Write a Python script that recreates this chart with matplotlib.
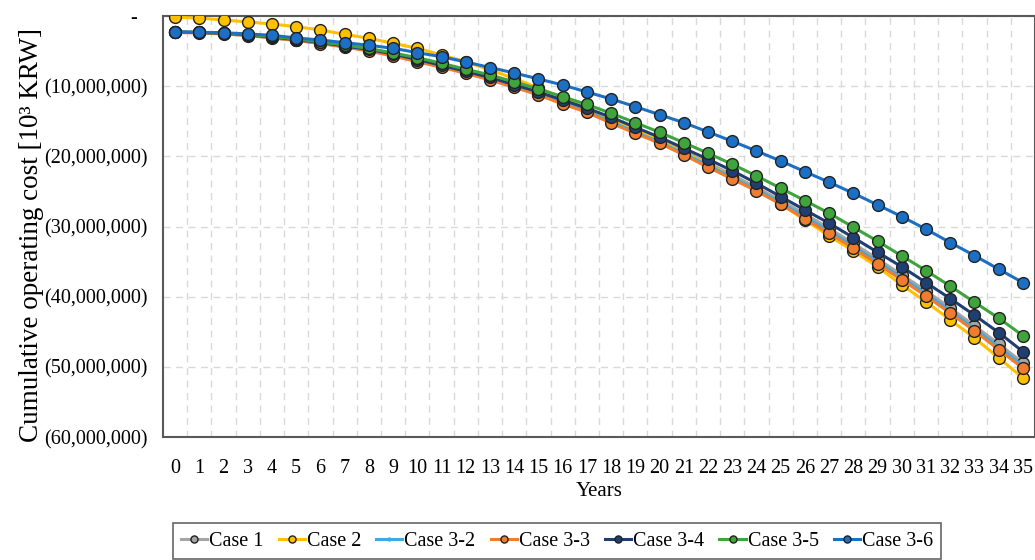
import numpy as np
import matplotlib
matplotlib.use("Agg")
import matplotlib.pyplot as plt
from matplotlib.ticker import FuncFormatter, FixedLocator

plt.rcParams['font.family'] = ['Liberation Serif', 'DejaVu Serif']

# Años y costos acumulados (millones de 10^3 KRW, negativos)
years = list(range(36))

case1 = [-2.28, -2.35, -2.49, -2.71, -3.06, -3.42, -3.85, -4.34, -4.84, -5.56,
         -6.34, -7.12, -7.98, -8.90, -9.97, -11.04, -12.25, -13.46, -14.81, -16.24,
         -17.73, -19.30, -20.94, -22.65, -24.43, -26.28, -28.21, -30.27, -32.41, -34.62,
         -36.89, -39.17, -41.60, -44.16, -46.72, -49.43]
case2 = [-0.19, -0.28, -0.57, -0.85, -1.14, -1.52, -1.99, -2.61, -3.18, -3.89,
         -4.60, -5.56, -6.51, -7.69, -8.90, -10.26, -11.68, -13.11, -14.60, -16.17,
         -17.81, -19.44, -21.15, -22.93, -24.79, -26.78, -29.06, -31.34, -33.48, -35.75,
         -38.32, -40.74, -43.30, -45.87, -48.72, -51.57]
case3_2 = [-2.30, -2.38, -2.52, -2.74, -3.10, -3.46, -3.89, -4.38, -4.92, -5.64,
           -6.44, -7.22, -8.08, -9.02, -10.08, -11.16, -12.42, -13.62, -15.08, -16.52,
           -17.98, -19.60, -21.30, -22.98, -24.75, -26.60, -28.62, -30.66, -32.80, -35.02,
           -37.30, -39.58, -42.02, -44.56, -47.16, -49.85]
case3_3 = [-2.35, -2.42, -2.56, -2.78, -3.13, -3.49, -3.92, -4.42, -4.99, -5.70,
           -6.51, -7.31, -8.17, -9.12, -10.16, -11.25, -12.54, -13.72, -15.28, -16.71,
           -18.13, -19.80, -21.55, -23.22, -24.93, -26.82, -28.92, -30.95, -33.09, -35.33,
           -37.61, -39.89, -42.35, -44.87, -47.54, -50.19]
case3_4 = [-2.28, -2.35, -2.45, -2.71, -2.99, -3.38, -3.77, -4.27, -4.77, -5.41,
           -6.20, -7.02, -7.88, -8.76, -9.78, -10.83, -11.97, -13.15, -14.43, -15.86,
           -17.28, -18.85, -20.41, -22.04, -23.83, -25.74, -27.64, -29.53, -31.58, -33.66,
           -35.75, -37.99, -40.27, -42.64, -45.11, -47.82]
case3_5 = [-2.28, -2.35, -2.42, -2.64, -2.92, -3.28, -3.70, -4.13, -4.63, -5.27,
           -5.94, -6.74, -7.59, -8.40, -9.40, -10.40, -11.50, -12.61, -13.86, -15.20,
           -16.57, -18.05, -19.56, -21.13, -22.79, -24.54, -26.31, -28.10, -30.10, -32.09,
           -34.19, -36.28, -38.50, -40.78, -43.06, -45.54]
case3_6 = [-2.28, -2.32, -2.38, -2.56, -2.75, -3.13, -3.42, -3.80, -4.17, -4.60,
           -5.23, -5.80, -6.55, -7.34, -8.12, -8.97, -9.83, -10.83, -11.82, -12.92,
           -14.06, -15.20, -16.52, -17.85, -19.23, -20.66, -22.18, -23.69, -25.26, -26.92,
           -28.59, -30.38, -32.29, -34.14, -36.08, -37.99]

labels = ["Case 1", "Case 2", "Case 3-2", "Case 3-3", "Case 3-4", "Case 3-5", "Case 3-6"]
series = [case1, case2, case3_2, case3_3, case3_4, case3_5, case3_6]
colors = ["#A5A5A5", "#FFC000", "#3FA9E6", "#F07D2E", "#1F3F73", "#3EA43B", "#1B70C6"]
y_ticks = [0, -10, -20, -30, -40, -50, -60]

fig = plt.figure(figsize=(10.35, 5.6), dpi=100)
ax = fig.add_axes([163 / 1035, 1 - 437 / 560, 1 - 163 / 1035, 421 / 560])

for lab, vals, col in zip(labels, series, colors):
    if lab == "Case 3-2":
        ax.plot(years, vals, color=col, lw=2.2, marker='o', markersize=3.5,
                markeredgecolor=col, label=lab, zorder=3)
    else:
        ax.plot(years, vals, color=col, lw=2.2, marker='o', markersize=8.5,
                markeredgecolor='#222222', markeredgewidth=1.0, label=lab, zorder=3)

ax.set_xlim(-0.5, 35.5)
ax.set_ylim(-60, 0)
ax.set_xticks(years)
ax.xaxis.set_minor_locator(FixedLocator(np.arange(0.5, 35.5, 1)))
ax.set_yticks(y_ticks)


def fmt_y(v, pos):
    if abs(v) < 1e-9:
        return "-  "
    return "({:,.0f})".format(abs(v) * 1e6)


ax.yaxis.set_major_formatter(FuncFormatter(fmt_y))
ax.tick_params(axis='both', which='both', length=0, labelsize=14.5)
ax.tick_params(axis='x', pad=16)
ax.tick_params(axis='y', pad=11)

ax.grid(axis='y', which='major', color='#D9D9D9', linestyle=(0, (5, 4)), lw=1)
ax.grid(axis='x', which='minor', color='#D9D9D9', linestyle=(0, (5, 4)), lw=1)
ax.grid(axis='x', which='major', visible=False)
ax.set_axisbelow(True)

for s in ax.spines.values():
    s.set_color('#595959')
    s.set_linewidth(1.5)

ax.set_xlabel("Years", fontsize=15, labelpad=3)
ax.set_ylabel("Cumulative operating cost [10³ KRW]", fontsize=19.5)
ax.yaxis.set_label_coords(-0.137, 0.48)

leg = fig.legend(loc='center', bbox_to_anchor=(557 / 1035, 1 - 541 / 560), ncol=7,
                 fontsize=14.5, frameon=True, fancybox=False, handlelength=1.3,
                 handletextpad=0.1, columnspacing=0.75, borderpad=0.4, markerscale=0.6)
leg.get_frame().set_edgecolor('#404040')
leg.get_frame().set_linewidth(1.2)

fig.savefig("out.png", dpi=100)
